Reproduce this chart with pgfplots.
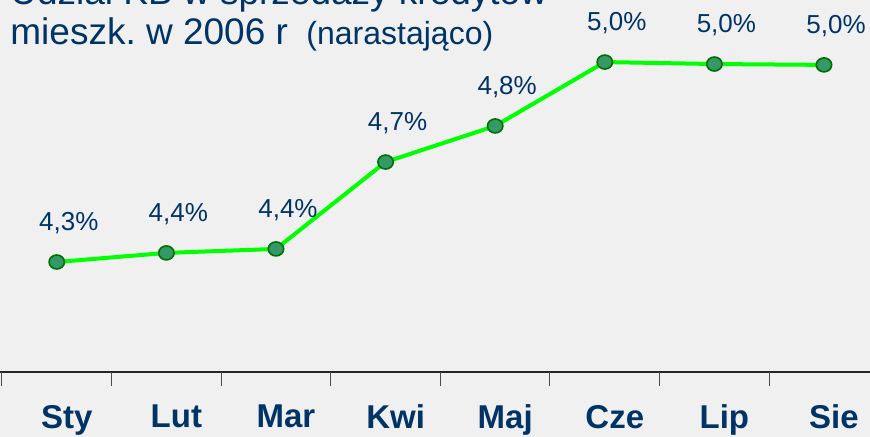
\documentclass[border=0pt]{standalone}
\usepackage{fontspec}
\setmainfont{Liberation Sans}
\usepackage{pgfplots}
\pgfplotsset{compat=1.18}
\definecolor{bgray}{RGB}{240,240,240}
\definecolor{navy}{RGB}{0,51,102}
\definecolor{lime}{RGB}{0,255,0}
\definecolor{dotfill}{RGB}{51,153,102}
\definecolor{dotedge}{RGB}{0,110,0}
\frenchspacing

\begin{document}
\begin{tikzpicture}
  % 1 px of the reference = 0.5pt; axis line sits 65 px above the bottom
  \useasboundingbox (0,-32.5pt) rectangle (435pt,186pt);
  \clip (0,-32.5pt) rectangle (435pt,186pt);
  \fill[bgray] (0,-32.5pt) rectangle (435pt,186pt);
  \begin{axis}[
    at={(0,0)}, anchor=south west,
    scale only axis, width=435pt, height=186pt,
    xmin=-0.518, xmax=7.42, ymin=3.9127, ymax=5.2225,
    axis x line*=bottom, axis y line=none,
    x axis line style={-, black!85, line width=0.7pt},
    xtick={0,...,7},
    xticklabels={Sty,Lut,Mar,Kwi,Maj,Cze,Lip,Sie},
    major tick length=0pt,
    xticklabel style={font=\fontsize{16.5}{18}\selectfont\bfseries, text=navy, yshift=-13pt, xshift=5pt},
    extra x ticks={-0.5,0.5,...,6.5},
    extra x tick labels={},
    extra x tick style={major tick length=7pt, xtick align=outside, tick style={black!70, line width=0.5pt}},
    clip=false,
    nodes near coords,
    point meta=explicit symbolic,
    every node near coord/.append style={font=\fontsize{13}{15}\selectfont, text=navy, anchor=center, yshift=19.5pt, xshift=6pt},
  ]
    \addplot[color=lime, line width=2pt, mark=*, mark size=3.5pt,
      mark options={xscale=1.1, fill=dotfill, draw=dotedge, line width=0.8pt}]
      table[meta=lab] {
        x y lab
        0 4.300 {4,3\%}
        1 4.332 {4,4\%}
        2 4.346 {4,4\%}
        3 4.652 {4,7\%}
        4 4.779 {4,8\%}
        5 5.004 {5,0\%}
        6 4.997 {5,0\%}
        7 4.994 {5,0\%}
      };
  \end{axis}
  \node[anchor=base west, text=navy, font=\fontsize{18.5}{20}\selectfont, inner sep=0pt]
    at (5pt,183.5pt) {Udział KB w sprzedaży kredytów};
  \node[anchor=base west, text=navy, font=\fontsize{18.5}{20}\selectfont, inner sep=0pt]
    at (5pt,163.5pt) {mieszk. w 2006 r\hspace{0.5em}{\fontsize{16}{17}\selectfont(narastająco)}};
\end{tikzpicture}
\end{document}
